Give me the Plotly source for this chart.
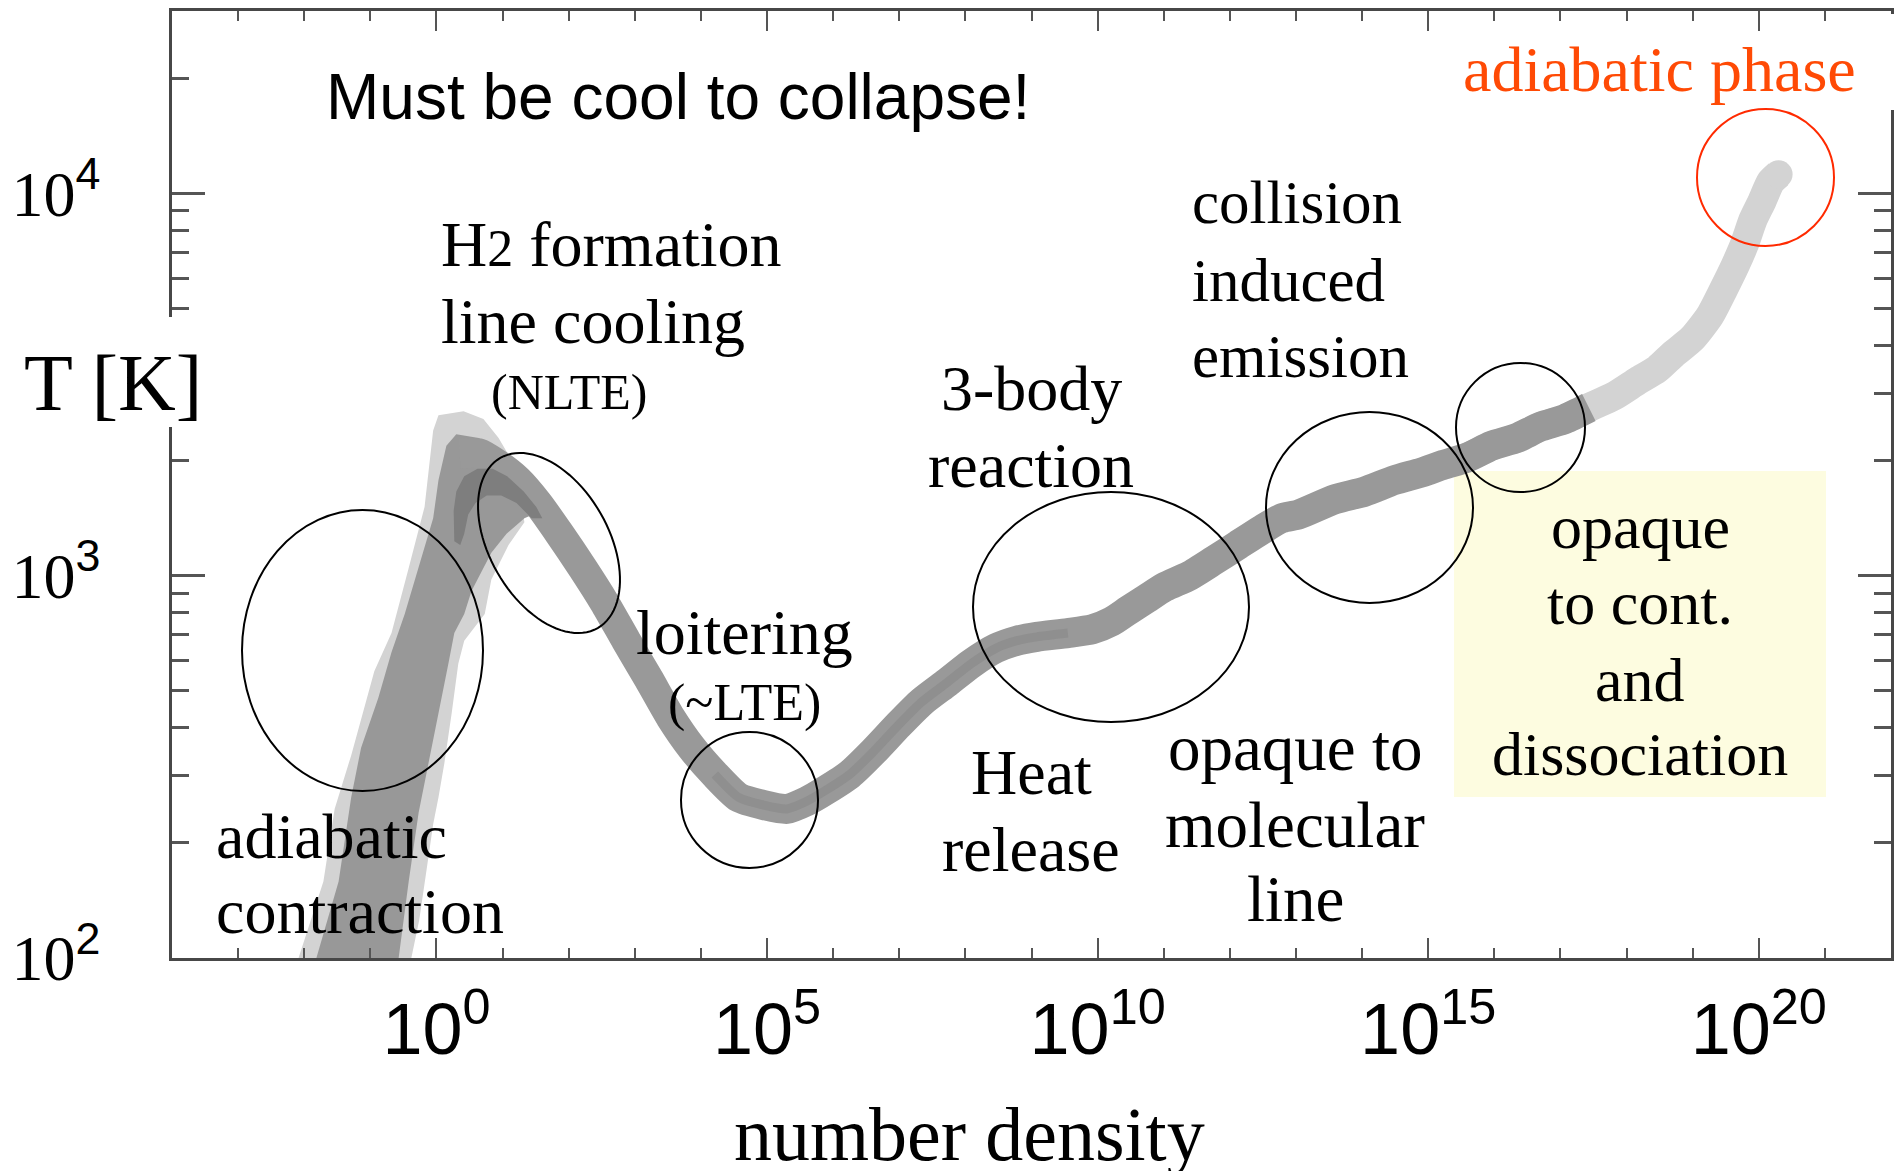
import numpy as np
import plotly.graph_objects as go

# ---------------------------------------------------------------------------
# Thermal evolution of a collapsing primordial gas cloud.
# Values are log10(number density / cm^-3) and log10(T / K).
# ---------------------------------------------------------------------------

# central track of the collapse (from the NLTE peak to the adiabatic core)
track_log_n = [0.35, 0.65, 0.94, 1.23, 1.53, 1.86, 2.21, 2.54, 2.87, 3.21,
               3.54, 3.86, 4.21, 4.57, 4.95, 5.30, 5.60, 5.90, 6.25, 6.61,
               6.99, 7.34, 7.72, 8.09, 8.46, 8.78, 9.08, 9.55, 9.92, 10.21,
               10.47, 10.74, 11.01, 11.39, 11.76, 12.12, 12.48, 12.78, 13.04, 13.59,
               14.04, 14.49, 14.90, 15.23, 15.60, 15.96, 16.34, 16.70, 17.07, 17.43,
               17.81, 18.17, 18.46, 18.71, 18.99, 19.26, 19.47, 19.64, 19.79, 19.91,
               20.05, 20.18, 20.30]
track_log_T = [3.32, 3.32, 3.29, 3.25, 3.19, 3.11, 3.02, 2.93, 2.83, 2.73,
               2.63, 2.55, 2.48, 2.42, 2.40, 2.39, 2.41, 2.44, 2.48, 2.54,
               2.61, 2.67, 2.72, 2.77, 2.81, 2.83, 2.84, 2.85, 2.86, 2.88,
               2.91, 2.94, 2.97, 3.00, 3.04, 3.08, 3.12, 3.15, 3.16, 3.20,
               3.22, 3.25, 3.27, 3.29, 3.31, 3.34, 3.36, 3.39, 3.41, 3.44,
               3.47, 3.51, 3.54, 3.58, 3.62, 3.68, 3.75, 3.81, 3.87, 3.93,
               3.98, 4.03, 4.05]

# outer (rare) envelope of the low-density adiabatic branch
outer_log_n = [-2.18, -1.71, -1.54, -1.29, -0.94, -0.68, -0.42, -0.18, -0.05, 0.03,
               0.41, 0.71, 0.94, 1.21, 1.33, 1.09, 0.83, 0.73, 0.42, 0.33,
               0.23, 0.12, 0.03, -0.05, -0.15, -0.26, -0.44]
outer_log_T = [1.95, 2.20, 2.39, 2.53, 2.75, 2.85, 3.02, 3.18, 3.38, 3.42,
               3.43, 3.41, 3.36, 3.28, 3.14, 3.08, 2.99, 2.90, 2.83, 2.77,
               2.64, 2.51, 2.42, 2.35, 2.23, 2.10, 1.95]

# main body of the low-density adiabatic branch
body_log_n = [-1.90, -1.48, -1.29, -1.14, -0.88, -0.68, -0.48, -0.27, -0.05, 0.03,
              0.15, 0.30, 0.64, 0.94, 1.24, 1.54, 1.59, 1.33, 1.06, 0.83,
              0.53, 0.42, 0.27, 0.18, 0.03, -0.12, -0.27, -0.42, -0.61]
body_log_T = [1.95, 2.20, 2.42, 2.55, 2.68, 2.80, 2.90, 3.02, 3.15, 3.25,
              3.34, 3.37, 3.36, 3.32, 3.28, 3.22, 3.17, 3.15, 3.11, 3.06,
              2.96, 2.90, 2.85, 2.77, 2.64, 2.51, 2.38, 2.20, 1.95]

# densest part of the distribution around the temperature peak
peak_log_n = [0.27, 0.26, 0.30, 0.42, 0.62, 0.85, 1.07, 1.32, 1.51, 1.60,
              1.44, 1.21, 0.98, 0.76, 0.59, 0.48, 0.42, 0.36]
peak_log_T = [3.09, 3.17, 3.22, 3.26, 3.28, 3.28, 3.26, 3.22, 3.18, 3.15,
              3.15, 3.19, 3.21, 3.21, 3.19, 3.16, 3.11, 3.08]

# axis ticks
x_major_exp = [0, 5, 10, 15, 20]
y_major_exp = [2, 3, 4]
x_range_exp = [-4, 22]
y_range_T = [100, 30000]

# ---------------------------------------------------------------------------
W, H = 1900, 1171
ML, MR, MT, MB = 172, 9, 11, 213
PW, PH = W - ML - MR, H - MT - MB


def px(x):
    """page pixel column -> paper x"""
    return (x - ML) / PW


def py(y):
    """page pixel row -> paper y"""
    return (H - MB - y) / PH


def lin(v):
    return [10.0 ** e for e in v]


GREY_LIGHT = "#d3d3d3"
GREY_MID = "#999999"
GREY_DARK = "#7e7e7e"

fig = go.Figure()

# envelopes of the low-density branch
fig.add_trace(go.Scatter(x=lin(outer_log_n), y=lin(outer_log_T), mode="lines",
                         fill="toself", fillcolor=GREY_LIGHT, line=dict(width=0),
                         hoverinfo="skip", showlegend=False))

# high-density part of the track (lighter shading)
hi = [i for i, v in enumerate(track_log_n) if v >= 15.6]
hi_x = lin([track_log_n[i] for i in hi])
hi_y = lin([track_log_T[i] for i in hi])
fig.add_trace(go.Scatter(x=hi_x, y=hi_y, mode="lines",
                         line=dict(color=GREY_LIGHT, width=29, shape="spline", smoothing=0.6),
                         hoverinfo="skip", showlegend=False))
# rounded end of the track
fig.add_trace(go.Scatter(x=hi_x[-1:], y=hi_y[-1:], mode="markers",
                         marker=dict(color=GREY_LIGHT, size=28, line=dict(width=0)),
                         hoverinfo="skip", showlegend=False))

fig.add_trace(go.Scatter(x=lin(body_log_n), y=lin(body_log_T), mode="lines",
                         fill="toself", fillcolor="#989898", line=dict(width=0),
                         hoverinfo="skip", showlegend=False))

# main track
mid = [i for i, v in enumerate(track_log_n) if v <= 17.43]
fig.add_trace(go.Scatter(x=lin([track_log_n[i] for i in mid]),
                         y=lin([track_log_T[i] for i in mid]), mode="lines",
                         line=dict(color=GREY_MID, width=30, shape="spline", smoothing=0.6),
                         hoverinfo="skip", showlegend=False))

# darker core along the loitering / heating section
core = [i for i, v in enumerate(track_log_n) if 4.0 <= v <= 9.6]
fig.add_trace(go.Scatter(x=lin([track_log_n[i] for i in core]),
                         y=lin([track_log_T[i] for i in core]), mode="lines",
                         line=dict(color="#8f8f8f", width=9, shape="spline", smoothing=0.6),
                         hoverinfo="skip", showlegend=False))

fig.add_trace(go.Scatter(x=lin(peak_log_n), y=lin(peak_log_T), mode="lines",
                         fill="toself", fillcolor=GREY_DARK, line=dict(width=0),
                         hoverinfo="skip", showlegend=False))

# ---------------------------------------------------------------------------
shapes = []

# shaded box behind the continuum-opacity label
shapes.append(dict(type="rect", xref="paper", yref="paper", layer="below",
                   x0=px(1454), x1=px(1826), y0=py(797), y1=py(471),
                   fillcolor="#fdfce0", line=dict(width=0)))


def ring(x0, y0, x1, y1, color="black"):
    return dict(type="circle", xref="paper", yref="paper", layer="above",
                x0=px(x0), x1=px(x1), y0=py(y1), y1=py(y0),
                line=dict(color=color, width=2))


shapes += [
    ring(242, 510, 483, 791),     # adiabatic contraction
    ring(681, 732, 818, 868),     # loitering
    ring(973, 492, 1249, 722),    # 3-body reaction / heat release
    ring(1266, 412, 1473, 603),   # collision induced emission
    ring(1456, 363, 1585, 492),   # opaque to continuum
    ring(1697, 109, 1834, 246, color="#ff2a00"),  # adiabatic phase
]

# tilted ellipse around the H2 line-cooling branch
cx, cy, a, b, th = 549.0, 543.0, 98.0, 59.5, np.radians(60.2)
t = np.linspace(0, 2 * np.pi, 97)
ex = cx + a * np.cos(th) * np.cos(t) - b * np.sin(th) * np.sin(t)
ey = cy + a * np.sin(th) * np.cos(t) + b * np.cos(th) * np.sin(t)
path = "M " + " L ".join(f"{px(u):.5f},{py(v):.5f}" for u, v in zip(ex, ey)) + " Z"
shapes.append(dict(type="path", xref="paper", yref="paper", layer="above",
                   path=path, line=dict(color="black", width=2)))

# white patches where labels sit over the frame
shapes.append(dict(type="rect", xref="paper", yref="paper", layer="above",
                   x0=px(150), x1=px(215), y0=py(427), y1=py(317),
                   fillcolor="white", line=dict(width=0)))
shapes.append(dict(type="rect", xref="paper", yref="paper", layer="above",
                   x0=px(1862), x1=px(1905), y0=py(110), y1=py(14),
                   fillcolor="white", line=dict(width=0)))

# ---------------------------------------------------------------------------
SERIF = "Liberation Serif"
SANS = "Liberation Sans"


def note(text, x, y, size=64, color="black", family=SERIF, xanchor="center"):
    return dict(text=text, xref="paper", yref="paper", x=px(x), y=py(y),
                xanchor=xanchor, yanchor="middle", showarrow=False,
                font=dict(family=family, size=size, color=color))


def block(lines, x, ys, size=64, xanchor="center"):
    return [note(s, x, y, size=size, xanchor=xanchor) for s, y in zip(lines, ys)]


annotations = [
    note("Must be cool to collapse!", 678, 97, size=64, family=SANS),
    note("(NLTE)", 569, 392, size=50),
    note("adiabatic phase", 1659, 69, size=64, color="#ff4a05"),
    note("T [K]", 113, 383, size=80),
    note("number density", 969, 1134, size=76),
    note("loitering", 744, 632, size=64),
    note("(~LTE)", 744, 703, size=52),
]
annotations += block(['H<span style="font-size:52px">2</span> formation', "line cooling"],
                     439, [244, 321], size=64, xanchor="left")
annotations += block(["adiabatic", "contraction"], 214, [836, 911], xanchor="left")
annotations += block(["3-body", "reaction"], 1031, [388, 465])
annotations += block(["Heat", "release"], 1031, [772, 849], size=64)
annotations += block(["collision", "induced", "emission"], 1190, [202, 280, 356],
                     size=61, xanchor="left")
annotations += block(["opaque to", "molecular", "line"], 1295, [748, 825, 899], size=65)
annotations += block(["opaque", "to cont.", "and", "dissociation"], 1640,
                     [527, 603, 680, 754], size=62)

sup_sans = '<sup><span style="font-family:Liberation Sans">{}</span></sup>'

fig.update_layout(
    width=W, height=H,
    margin=dict(l=ML, r=MR, t=MT, b=MB, pad=0, autoexpand=False),
    paper_bgcolor="white", plot_bgcolor="white",
    showlegend=False,
    shapes=shapes,
    annotations=annotations,
    xaxis=dict(
        type="log", range=x_range_exp, showgrid=False, zeroline=False, automargin=False,
        showline=True, linecolor="#474747", linewidth=2.5, mirror="ticks",
        ticks="inside", ticklen=20, tickwidth=2.2, tickcolor="#555555",
        tickvals=[10.0 ** e for e in x_major_exp],
        ticktext=[f"10<sup>{e}</sup>" for e in x_major_exp],
        tickfont=dict(family=SANS, size=72, color="black"),
        ticklabelstandoff=7,
        minor=dict(tickvals=[10.0 ** k for k in range(x_range_exp[0], x_range_exp[1] + 1)],
                   ticks="inside", ticklen=10, tickwidth=2, tickcolor="#555555"),
    ),
    yaxis=dict(
        type="log", range=[np.log10(y_range_T[0]), np.log10(y_range_T[1])],
        showgrid=False, zeroline=False, automargin=False,
        showline=True, linecolor="#474747", linewidth=2.5, mirror="ticks",
        ticks="inside", ticklen=33, tickwidth=2.5, tickcolor="#555555",
        tickvals=[10.0 ** e for e in y_major_exp],
        ticktext=["10" + sup_sans.format(e) for e in y_major_exp],
        tickfont=dict(family=SERIF, size=64, color="black"),
        ticklabelstandoff=56,
        minor=dict(tickvals=[m * 10.0 ** k for k in (2, 3, 4) for m in range(1, 10)
                             if m * 10.0 ** k <= y_range_T[1]],
                   ticks="inside", ticklen=17, tickwidth=2.5, tickcolor="#555555"),
    ),
)

fig.write_html("out.html")
